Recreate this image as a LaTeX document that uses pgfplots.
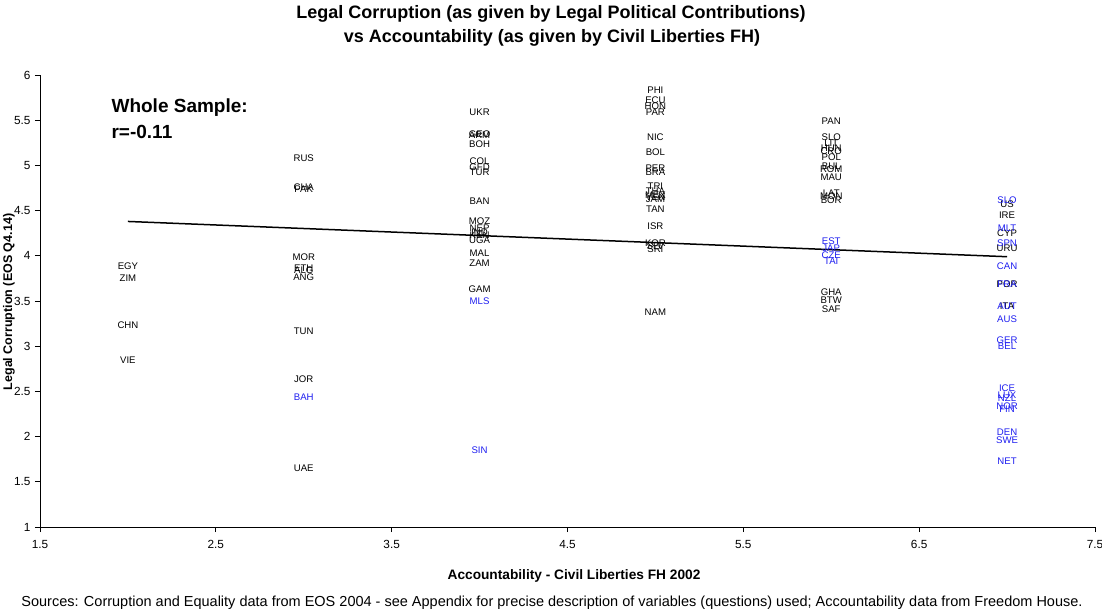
\documentclass[border=0pt]{standalone}
\usepackage{fontspec}
\setmainfont{Liberation Sans}
\usepackage{pgfplots}
\pgfplotsset{compat=1.18}
\usepackage{pgfplotstable}
\definecolor{lblblue}{RGB}{30,30,240}

\pgfplotstableread{
x y label
2 3.89 EGY
2 3.75 ZIM
2 3.23 CHN
2 2.84 VIE
3 5.08 RUS
3 4.76 CHA
3 4.74 PAK
3 3.99 MOR
3 3.86 ETH
3 3.84 ALG
3 3.76 ANG
3 3.16 TUN
3 2.64 JOR
3 1.65 UAE
4 5.59 UKR
4 5.35 GEO
4 5.33 ARM
4 5.24 BOH
4 5.05 COL
4 4.98 GFD
4 4.92 TUR
4 4.60 BAN
4 4.38 MOZ
4 4.30 NEP
4 4.26 IND
4 4.23 KEN
4 4.17 UGA
4 4.03 MAL
4 3.92 ZAM
4 3.63 GAM
5 5.83 PHI
5 5.72 ECU
5 5.65 HON
5 5.59 PAR
5 5.31 NIC
5 5.15 BOL
5 4.97 PER
5 4.92 BRA
5 4.77 TRI
5 4.71 THA
5 4.67 MEX
5 4.65 VEN
5 4.63 JAM
5 4.52 TAN
5 4.33 ISR
5 4.14 KOR
5 4.11 SLV
5 4.07 SRI
5 3.38 NAM
6 5.49 PAN
6 5.31 SLO
6 5.25 LIT
6 5.19 HUN
6 5.16 CRO
6 5.09 POL
6 4.99 BUL
6 4.96 ROM
6 4.87 MAU
6 4.69 LAT
6 4.66 MON
6 4.62 BOR
6 3.60 GHA
6 3.51 BTW
6 3.41 SAF
7 4.57 US
7 4.45 IRE
7 4.25 CYP
7 4.08 URU
7 3.69 POR
7 3.44 ITA
}\blackdata

\pgfplotstableread{
x y label
3 2.44 BAH
4 3.50 MLS
4 1.85 SIN
6 4.16 EST
6 4.08 JAP
6 4.01 CZE
6 3.94 TAI
7 4.61 SLO
7 4.31 MLT
7 4.14 SPN
7 3.89 CAN
7 3.69 FRA
7 3.44 AUT
7 3.30 AUS
7 3.07 GER
7 3.00 BEL
7 2.53 ICE
7 2.46 LUX
7 2.43 NZL
7 2.34 NOR
7 2.30 FIN
7 2.05 DEN
7 1.96 SWE
7 1.73 NET
}\bluedata

\begin{document}
\begin{tikzpicture}
\useasboundingbox (-40pt,-87pt) rectangle (1062pt,527pt);
\begin{axis}[
  at={(0pt,0pt)}, anchor=south west,
  scale only axis, width=1055pt, height=452pt,
  xmin=1.5, xmax=7.5, ymin=1, ymax=6,
  axis lines=left, axis line style={-, line width=0.7pt},
  xtick={1.5,2.5,3.5,4.5,5.5,6.5,7.5},
  ytick={1,1.5,2,2.5,3,3.5,4,4.5,5,5.5,6},
  tick align=outside, major tick length=5pt,
  tick style={black, line width=0.7pt},
  /pgf/number format/assume math mode=true,
  ticklabel style={font=\fontsize{11.8}{11.8}\selectfont},
  xticklabel style={yshift=-5pt},
  yticklabel style={xshift=-1pt},
  clip=false,
  nodes near coords style={font=\fontsize{9.6}{9.6}\selectfont, anchor=center, inner sep=0pt},
]
\addplot[draw=none, mark=none, nodes near coords, point meta=explicit symbolic,
  every node near coord/.append style={text=black}]
  table[x=x, y=y, meta=label] {\blackdata};
\addplot[draw=none, mark=none, nodes near coords, point meta=explicit symbolic,
  every node near coord/.append style={text=lblblue}]
  table[x=x, y=y, meta=label] {\bluedata};
\addplot[black, line width=1.5pt] coordinates {(2,4.38) (7,3.99)};
\node[anchor=west, font=\bfseries\fontsize{19}{19}\selectfont] at (axis cs:1.887,5.64) {Whole Sample:};
\node[anchor=west, font=\bfseries\fontsize{19}{19}\selectfont] at (axis cs:1.887,5.37) {r=-0.11};
\end{axis}
\node[font=\bfseries\fontsize{18}{18}\selectfont] at (511pt,513pt) {Legal Corruption (as given by Legal Political Contributions)};
\node[font=\bfseries\fontsize{18}{18}\selectfont] at (512pt,489pt) {vs Accountability (as given by Civil Liberties FH)};
\node[rotate=90, font=\bfseries\fontsize{12.5}{12.5}\selectfont] at (-31pt,225pt) {Legal Corruption (EOS Q4.14)};
\node[font=\bfseries\fontsize{13.7}{13.7}\selectfont] at (534pt,-49pt) {Accountability - Civil Liberties FH 2002};
\node[font=\fontsize{14.5}{14.5}\selectfont] at (512pt,-76pt) {Sources: Corruption and Equality data from EOS 2004 - see Appendix for precise description of variables (questions) used; Accountability data from Freedom House.};
\end{tikzpicture}
\end{document}
